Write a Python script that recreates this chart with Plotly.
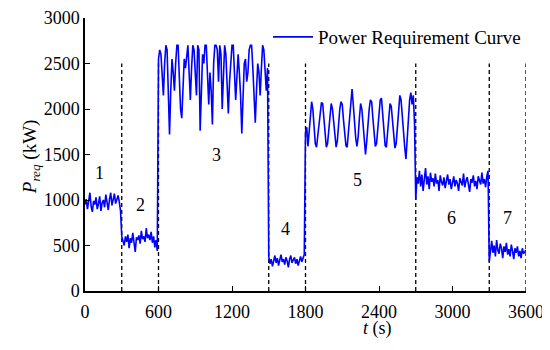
import plotly.graph_objects as go

step = 10

# power requirement (kW)
seg1 = [950, 1010, 900, 980, 1080, 930, 870, 990, 950, 1030,
        900, 960, 1040, 880, 970, 1000, 920, 1060, 950, 890,
        1010, 1080, 940, 990, 1070, 960, 1000, 1050, 980, 880]
seg2 = [600, 560, 500, 600, 540, 620, 470, 580, 530, 640,
        500, 430, 590, 560, 610, 520, 660, 570, 600, 540,
        690, 580, 620, 560, 650, 530, 600, 480, 560, 440]
seg3 = [2550, 2650, 2600, 2350, 2150, 2500, 2700, 2650, 2100, 1720,
        2200, 2550, 2400, 2200, 2500, 2700, 2700, 2350, 2000, 1900,
        2250, 2550, 2450, 2600, 2700, 2400, 2100, 2450, 2700, 2650,
        2300, 2150, 2700, 2650, 1760, 2200, 2600, 2500, 2700, 2700,
        2300, 2050, 2400, 2200, 1830, 2500, 2700, 2700, 2650, 2300,
        2700, 2600, 2000, 2400, 2700, 2600, 2250, 1950, 2300, 2500,
        2700, 2700, 2400, 2100, 2350, 2600, 2400, 2150, 1730, 2100,
        2500, 2550, 2300, 2400, 2650, 2700, 2700, 2450, 2050, 1850,
        2200, 2500, 2400, 2150, 2450, 2700, 2650, 2350, 2200, 2450]
seg4 = [380, 300, 350, 270, 330, 390, 310, 360, 280, 340,
        400, 320, 350, 290, 370, 330, 260, 350, 390, 310,
        340, 370, 300, 350, 280, 330, 380, 320, 360, 400]
seg5 = [1750, 1800, 1590, 1750, 1980, 2080, 2000, 1800, 1620, 1580,
        1700, 1850, 2000, 2070, 2060, 1900, 1700, 1580, 1620, 1800,
        1980, 2060, 2000, 1850, 1650, 1580, 1650, 1850, 2000, 2080,
        2050, 1880, 1700, 1600, 1580, 1750, 1950, 2080, 2220, 2050,
        1850, 1680, 1590, 1700, 1900, 2060, 2000, 1800, 1620, 1500,
        1650, 1850, 2000, 2100, 2080, 1900, 1700, 1590, 1620, 1800,
        1980, 2100, 2120, 1950, 1750, 1600, 1580, 1750, 1950, 2060,
        2030, 1850, 1650, 1570, 1620, 1800, 1980, 2150, 2100, 1900,
        1700, 1580, 1450, 1700, 1950, 2100, 2180, 2050, 2150, 1850]
seg6 = [1000, 1250, 1180, 1320, 1150, 1280, 1100, 1230, 1350, 1170,
        1260, 1120, 1300, 1200, 1240, 1150, 1290, 1180, 1220, 1100,
        1270, 1200, 1160, 1250, 1130, 1210, 1280, 1170, 1230, 1120,
        1190, 1260, 1150, 1220, 1180, 1100, 1240, 1200, 1160, 1290,
        1140, 1210, 1250, 1170, 1090, 1230, 1190, 1270, 1150, 1210,
        1120, 1260, 1200, 1170, 1300, 1180, 1230, 1140, 1260, 1320]
seg7 = [320, 480, 550, 420, 500, 380, 560, 450, 410, 520,
        470, 360, 490, 430, 530, 400, 460, 380, 510, 440,
        350, 470, 420, 490, 380, 440, 360, 470, 410, 430, 450]

power = seg1 + seg2 + seg3 + seg4 + seg5 + seg6 + seg7
time = [i * step for i in range(len(power))]

# segment boundaries and labels
bounds = [300, 600, 1500, 1800, 2700, 3300, 3600]
bound_top = 2500
labels = ["1", "2", "3", "4", "5", "6", "7"]
label_t = [120, 450, 1070, 1635, 2225, 2995, 3450]
label_p = [1300, 950, 1490, 680, 1220, 800, 800]

FONT = "Liberation Serif"

fig = go.Figure()

# dashed separators
dx, dy = [], []
for b in bounds:
    dx += [b, b, None]
    dy += [0, bound_top, None]
fig.add_trace(go.Scatter(x=dx, y=dy, mode="lines", showlegend=False,
                         line=dict(color="black", width=1.3, dash="4px,3px"),
                         hoverinfo="skip"))

fig.add_trace(go.Scatter(x=time, y=power, mode="lines",
                         name="Power Requirement Curve",
                         line=dict(color="#0000ff", width=1.6)))

for lab, t, p in zip(labels, label_t, label_p):
    fig.add_annotation(x=t, y=p, text=lab, showarrow=False,
                       font=dict(family=FONT, size=18, color="black"))

# axis titles as annotations (the x title sits under the 2400 tick)
fig.add_annotation(x=2390, y=0, yref="paper", yshift=-37, yanchor="middle",
                   text="<i>t</i> (s)", showarrow=False,
                   font=dict(family=FONT, size=18, color="black"))
fig.add_annotation(x=0, xref="paper", xshift=-68, y=0.49, yref="paper",
                   text="<i>P</i><sub><i>req</i></sub> (kW)",
                   textangle=-90, showarrow=False,
                   font=dict(family=FONT, size=19, color="black"))

fig.update_xaxes(range=[0, 3600], tickvals=list(range(0, 3601, 600)),
                 ticks="inside", ticklen=5, tickcolor="black",
                 ticklabelstandoff=4, ticklabeloverflow="allow",
                 showline=True, linecolor="black", linewidth=1.5,
                 showgrid=False, zeroline=False, automargin=False)
fig.update_yaxes(range=[0, 3000], tickvals=list(range(0, 3001, 500)),
                 ticks="inside", ticklen=5, tickcolor="black",
                 ticklabeloverflow="allow",
                 showline=True, linecolor="black", linewidth=1.5,
                 showgrid=False, zeroline=False, automargin=False)

fig.update_layout(
    width=550, height=350,
    margin=dict(l=77, r=32, t=10, b=67),
    plot_bgcolor="white", paper_bgcolor="white",
    font=dict(family=FONT, size=18, color="black"),
    legend=dict(x=1, y=1.0, xanchor="right", yanchor="top",
                bgcolor="rgba(0,0,0,0)", font=dict(size=19),
                borderwidth=0, itemwidth=40),
)

fig.write_html("out.html")
